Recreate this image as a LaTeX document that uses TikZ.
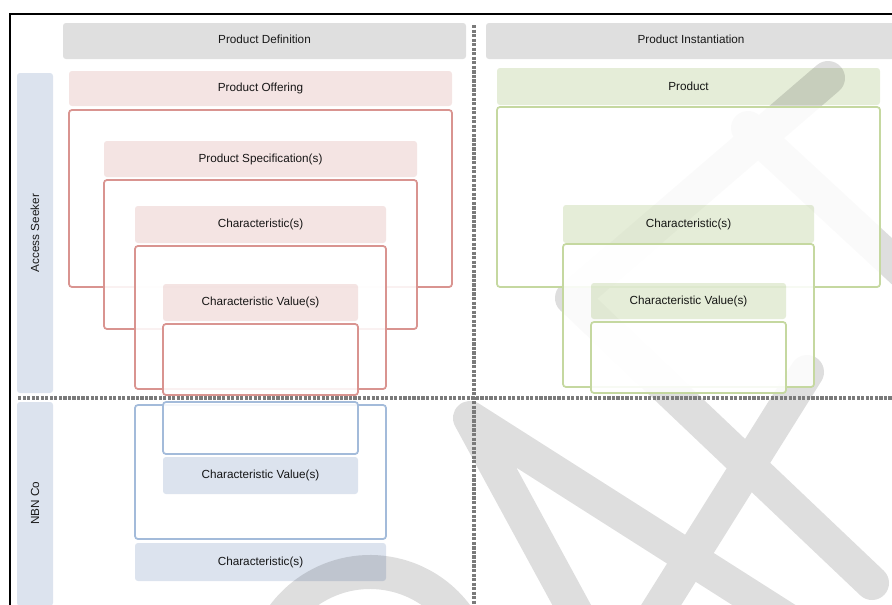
\documentclass[tikz,border=0pt]{standalone}
\usepackage{fontspec}
\setmainfont{Liberation Sans}
\definecolor{hdrgray}{HTML}{DFDFDF}
\definecolor{redfill}{HTML}{F4E4E3}
\definecolor{redline}{HTML}{D99490}
\definecolor{bluefill}{HTML}{DCE3EE}
\definecolor{blueline}{HTML}{A3BBDA}
\definecolor{greenfill}{HTML}{E5EDD8}
\definecolor{greenline}{HTML}{C5D8A0}
\definecolor{wmgray}{HTML}{DEDEDE}
\definecolor{sepgray}{HTML}{7A7A7A}
\newcommand{\mkbox}[7]{%
  \node[#1, minimum width={(#5-#3)*0.75pt}, minimum height={(#6-#4)*0.75pt}] (#2) at ({(#3+#5)/2},{(#4+#6)/2}) {#7};}
\begin{document}
\begin{tikzpicture}[x=0.75pt,y=-0.75pt,
  txt/.style={font=\fontsize{8.8pt}{10.5pt}\selectfont, text=black!90},
  hdr/.style={fill=hdrgray, rounded corners=2.2pt, inner sep=0pt},
  lab/.style={txt, rounded corners=2.2pt, inner sep=0pt, blend mode=multiply},
  redlab/.style={lab, fill=redfill},
  bluelab/.style={lab, fill=bluefill},
  greenlab/.style={lab, fill=greenfill},
  outl/.style={rounded corners=2.2pt, line width=1.3pt, fill=white, fill opacity=0.88, inner sep=0pt},
  redout/.style={outl, draw=redline},
  blueout/.style={outl, draw=blueline},
  greenout/.style={outl, draw=greenline},
  side/.style={fill=bluefill, rounded corners=2.2pt, inner sep=0pt},
  wm/.style={draw=wmgray, line width=25.5pt, line cap=round, line join=round},
  sep/.style={draw=sepgray, line width=2.3pt, dash pattern=on 2.4pt off 1pt},
  frame/.style={draw=black, line width=1.5pt}]
\useasboundingbox (0,0) rectangle (892,604);
% watermark
\begin{scope}
\clip (0,0) rectangle (892,604);
\draw[wm] (582,624) -- (470,418) -- (800,628);
\draw[wm] (807,372) -- (648,626);
\draw[wm] (872,583) -- (572,298) -- (828,78);
\draw[wm] (748,128) -- (990,352);
\draw[wm] (370,680) ++(195:108) arc[start angle=195, end angle=345, radius=108];
\end{scope}
% frame
\coordinate (ftl) at (10,14);
\coordinate (ftr) at (893,14);
\coordinate (fbl) at (10,605);
\draw[frame] (ftr) -- (ftl) -- (fbl);
% headers
\mkbox{hdr}{hdef}{63}{23}{466}{59}{}
\node[txt] (tdef) at (264.5,39) {Product Definition};
\mkbox{hdr}{hinst}{486}{23}{896}{59}{}
\node[txt] (tinst) at (691,39) {Product Instantiation};
% side labels
\mkbox{side}{sacc}{17}{73}{53}{393}{}
\node[txt, rotate=90] (tacc) at (sacc.center) {Access Seeker};
\mkbox{side}{snbn}{17}{402}{53}{606}{}
\node[txt, rotate=90] (tnbn) at (35,503) {NBN Co};
% red (product definition, access seeker)
\mkbox{redlab}{poff}{69}{71}{452}{106}{Product Offering}
\mkbox{redout}{poffb}{69}{110}{452}{287}{}
\mkbox{redlab}{pspec}{104}{141}{417}{177}{Product Specification(s)}
\mkbox{redout}{pspecb}{104}{180}{417}{329}{}
\mkbox{redlab}{rchar}{135}{206}{386}{243}{Characteristic(s)}
\mkbox{redout}{rcharb}{135}{246}{386}{389}{}
\mkbox{redlab}{rval}{163}{284}{358}{321}{Characteristic Value(s)}
\mkbox{redout}{rvalb}{163}{324}{358}{395}{}
% blue (product definition, NBN Co)
\mkbox{blueout}{bcharb}{135}{405}{386}{539}{}
\mkbox{blueout}{bvalb}{163}{402}{358}{454}{}
\mkbox{bluelab}{bval}{163}{457}{358}{494}{Characteristic Value(s)}
\mkbox{bluelab}{bchar}{135}{543}{386}{581}{Characteristic(s)}
% green (product instantiation)
\mkbox{greenlab}{gprod}{497}{68}{880}{105}{Product}
\mkbox{greenout}{gprodb}{497}{107}{880}{287}{}
\mkbox{greenlab}{gchar}{563}{205}{814}{243}{Characteristic(s)}
\mkbox{greenout}{gcharb}{563}{244}{814}{387}{}
\mkbox{greenlab}{gval}{591}{283}{786}{319}{Characteristic Value(s)}
\mkbox{greenout}{gvalb}{591}{322}{786}{393}{}
% separators
\coordinate (vtop) at (474,25);
\coordinate (vbot) at (474,605);
\coordinate (hleft) at (18,398);
\coordinate (hright) at (893,398);
\draw[sep] (vtop) -- (vbot);
\draw[sep] (hleft) -- (hright);
\end{tikzpicture}
\end{document}
